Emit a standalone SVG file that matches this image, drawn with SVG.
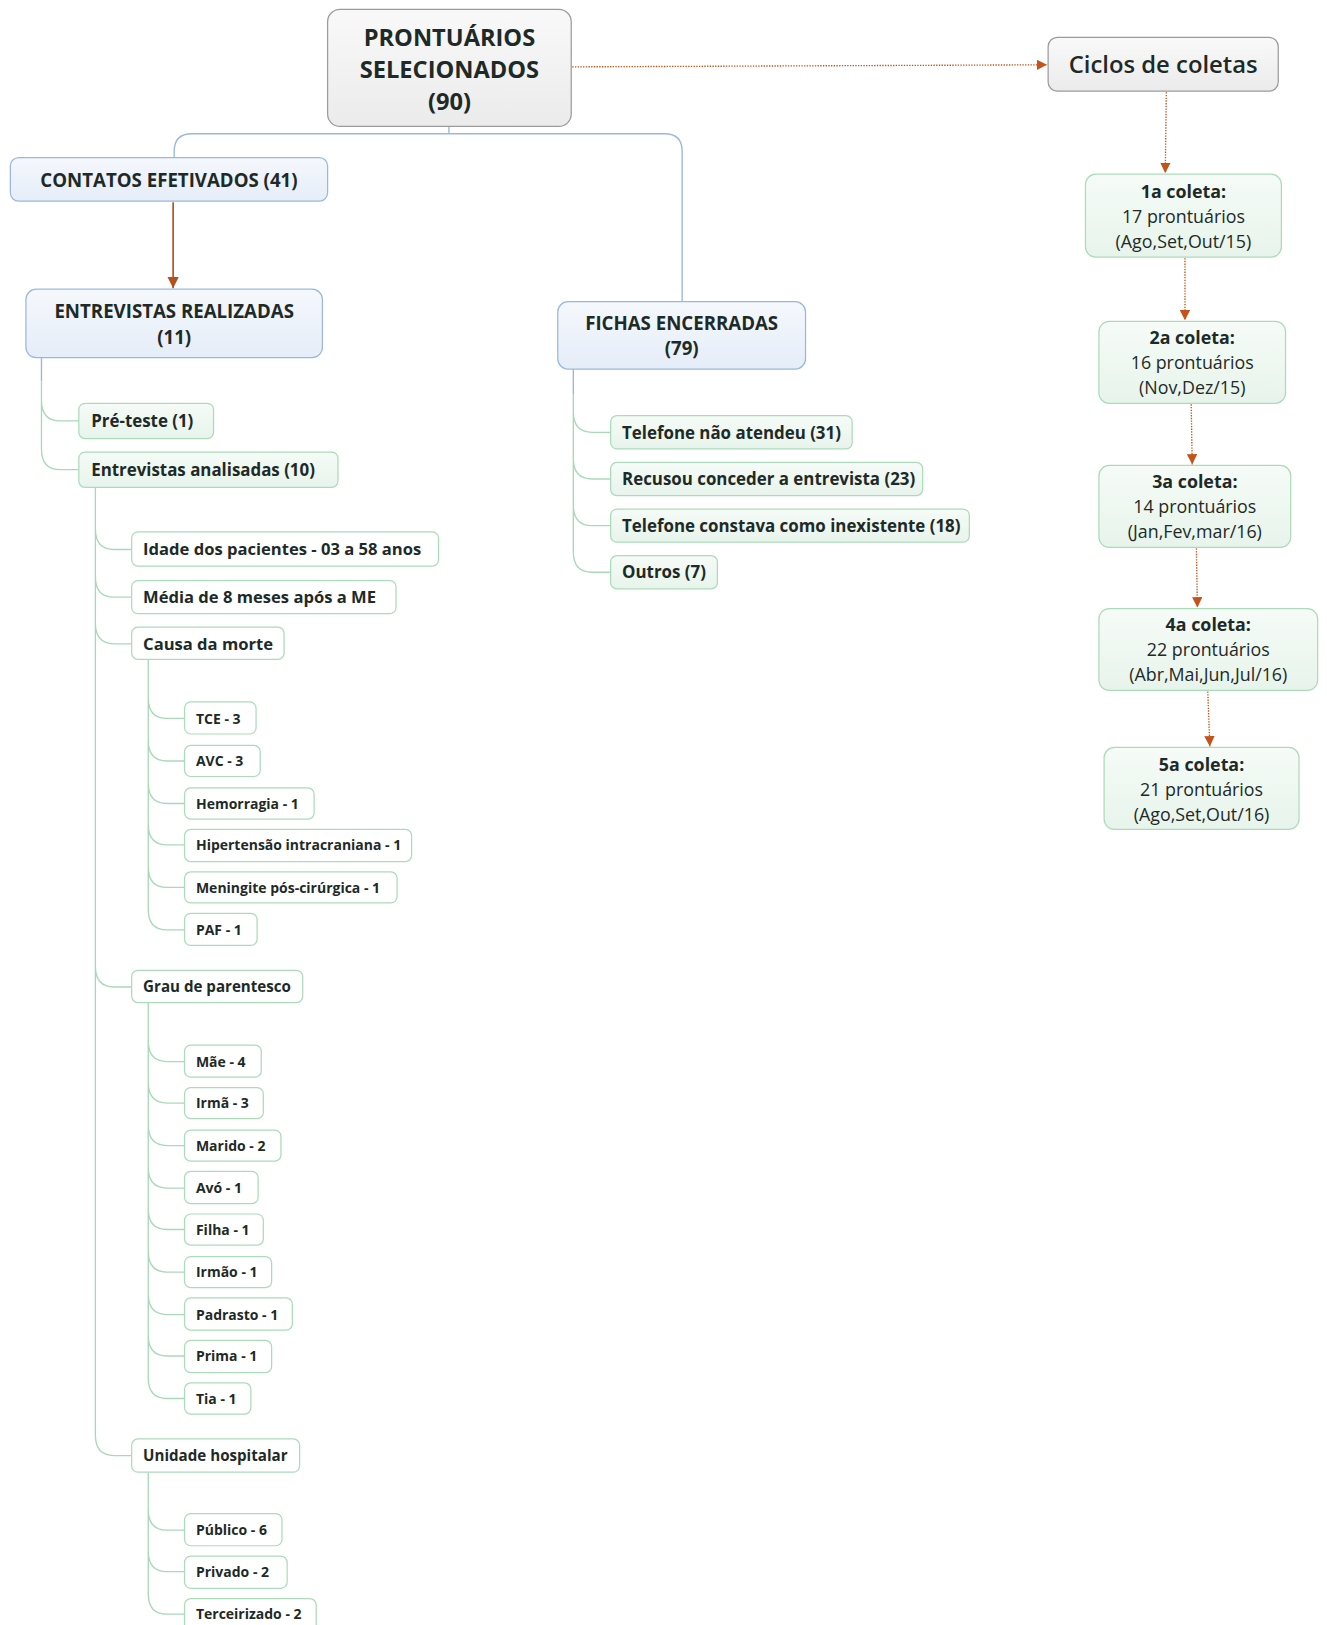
<svg xmlns="http://www.w3.org/2000/svg" width="1327" height="1625" viewBox="0 0 1327 1625">
<defs>
<linearGradient id="gGray" x1="0" y1="0" x2="0" y2="1"><stop offset="0" stop-color="#f9f9f9"/><stop offset="1" stop-color="#ebebeb"/></linearGradient>
<linearGradient id="gBlue" x1="0" y1="0" x2="0" y2="1"><stop offset="0" stop-color="#f5f8fc"/><stop offset="1" stop-color="#e5edf8"/></linearGradient>
<linearGradient id="gGreen" x1="0" y1="0" x2="0" y2="1"><stop offset="0" stop-color="#f6fbf7"/><stop offset="1" stop-color="#e7f4eb"/></linearGradient>
<marker id="aOr" viewBox="0 0 10 10" refX="10" refY="5" markerWidth="10" markerHeight="10" markerUnits="userSpaceOnUse" orient="auto"><path d="M0,0 L10,5 L0,10 z" fill="#c4531a"/></marker>
<marker id="aBr" viewBox="0 0 10 10" refX="10" refY="5" markerWidth="11" markerHeight="11" markerUnits="userSpaceOnUse" orient="auto"><path d="M0,0 L10,5 L0,10 z" fill="#b0521f"/></marker>
</defs>
<style>
text{font-family:"Open Sans","Noto Sans","DejaVu Sans",sans-serif;fill:#1e2a27}
.b{font-weight:700}
.c{text-anchor:middle}
.gray{fill:url(#gGray);stroke:#9b9b9b;stroke-width:1.2}
.blue{fill:url(#gBlue);stroke:#9ab8de;stroke-width:1.2}
.green{fill:url(#gGreen);stroke:#acdbbb;stroke-width:1.2}
.white{fill:#ffffff;stroke:#acdbbb;stroke-width:1.2}
.cb{fill:none;stroke:#9ab8de;stroke-width:1.3}
.cg{fill:none;stroke:#a9d9b9;stroke-width:1.3}
.cd{fill:none;stroke:#c4531a;stroke-width:1.3;stroke-dasharray:1.3 1.3}
.cr{fill:none;stroke:#b0521f;stroke-width:1.6}
.f21{font-size:22.8px}.f23{font-size:23px}.f18{font-size:18px}.f165{font-size:16.3px}.f17{font-size:17.2px}.f16{font-size:16px}.f145{font-size:14.6px}.f135{font-size:13.5px}
</style>
<g transform="scale(1.036719)">
<g id="connectors">
<path class="cb" d="M433,122 V129 M168,152 V146 Q168,129 185,129 H641 Q658,129 658,146 V291"/>
<path class="cr" d="M167,195 L167,278" marker-end="url(#aBr)"/>
<path class="cd" d="M552,64.5 L1010,62.5" marker-end="url(#aOr)"/>
<path class="cd" d="M1125,89 L1124,167" marker-end="url(#aOr)"/>
<path class="cd" d="M1143,249 L1143,309" marker-end="url(#aOr)"/>
<path class="cd" d="M1149,390 L1150,448" marker-end="url(#aOr)"/>
<path class="cd" d="M1154,529 L1155,586" marker-end="url(#aOr)"/>
<path class="cd" d="M1165,667 L1167,720" marker-end="url(#aOr)"/>
<path class="cb" d="M40,345 V368 M553,356 V380"/>
<path class="cg" d="M40,368 V433 M40,386 C40,400 46,406 58,406 H76 M40,433 C40,447 46,453 58,453 H76"/>
<path class="cg" d="M553,380 V532 M553,397 C553,411 559,417 571,417 H589 M553,442 C553,456 559,462 571,462 H589 M553,487 C553,501 559,507 571,507 H589 M553,532 C553,546 559,552 571,552 H589"/>
<path class="cg" d="M92,470 V1384 M92,510 C92,524 98,530 110,530 H127 M92,556 C92,570 98,576 110,576 H127 M92,601 C92,615 98,621 110,621 H127 M92,932 C92,946 98,952 110,952 H127 M92,1384 C92,1398 98,1404 110,1404 H127"/>
<path class="cg" d="M143,636 V877 M143,673 C143,687 149,693 161,693 H178 M143,714 C143,728 149,734 161,734 H178 M143,755 C143,769 149,775 161,775 H178 M143,795 C143,809 149,815 161,815 H178 M143,836 C143,850 149,856 161,856 H178 M143,877 C143,891 149,897 161,897 H178"/>
<path class="cg" d="M143,967 V1329 M143,1004 C143,1018 149,1024 161,1024 H178 M143,1044 C143,1058 149,1064 161,1064 H178 M143,1085 C143,1099 149,1105 161,1105 H178 M143,1126 C143,1140 149,1146 161,1146 H178 M143,1166 C143,1180 149,1186 161,1186 H178 M143,1207 C143,1221 149,1227 161,1227 H178 M143,1248 C143,1262 149,1268 161,1268 H178 M143,1288 C143,1302 149,1308 161,1308 H178 M143,1329 C143,1343 149,1349 161,1349 H178"/>
<path class="cg" d="M143,1420 V1537 M143,1456 C143,1470 149,1476 161,1476 H178 M143,1496 C143,1510 149,1516 161,1516 H178 M143,1537 C143,1551 149,1557 161,1557 H178"/>
</g>

<g id="n-root"><rect class="gray" x="316" y="9" width="235" height="113" rx="12"/>
<text class="b c f21" x="433.5" y="44.3">PRONTUÁRIOS</text>
<text class="b c f21" x="433.5" y="75.3">SELECIONADOS</text>
<text class="b c f21" x="433.5" y="106.3">(90)</text></g>

<g id="n-ciclos"><rect class="gray" x="1011" y="36" width="222" height="52" rx="9"/>
<text class="c f23" style="font-weight:600" x="1122" y="70">Ciclos de coletas</text></g>

<g id="n-c1"><rect class="green" x="1047" y="168" width="189" height="80" rx="10"/>
<text class="b c f17" x="1141.5" y="191">1a coleta:</text>
<text class="c f17" x="1141.5" y="215">17 prontuários</text>
<text class="c f17" x="1141.5" y="239">(Ago,Set,Out/15)</text></g>

<g id="n-c2"><rect class="green" x="1060" y="310" width="180" height="79" rx="10"/>
<text class="b c f17" x="1150" y="332">2a coleta:</text>
<text class="c f17" x="1150" y="356">16 prontuários</text>
<text class="c f17" x="1150" y="380">(Nov,Dez/15)</text></g>

<g id="n-c3"><rect class="green" x="1060" y="449" width="185" height="79" rx="10"/>
<text class="b c f17" x="1152.5" y="471">3a coleta:</text>
<text class="c f17" x="1152.5" y="495">14 prontuários</text>
<text class="c f17" x="1152.5" y="519">(Jan,Fev,mar/16)</text></g>

<g id="n-c4"><rect class="green" x="1060" y="587" width="211" height="79" rx="10"/>
<text class="b c f17" x="1165.5" y="609">4a coleta:</text>
<text class="c f17" x="1165.5" y="633">22 prontuários</text>
<text class="c f17" x="1165.5" y="657">(Abr,Mai,Jun,Jul/16)</text></g>

<g id="n-c5"><rect class="green" x="1065" y="721" width="188" height="79" rx="10"/>
<text class="b c f17" x="1159" y="744">5a coleta:</text>
<text class="c f17" x="1159" y="768">21 prontuários</text>
<text class="c f17" x="1159" y="792">(Ago,Set,Out/16)</text></g>

<g id="n-contatos"><rect class="blue" x="10" y="152" width="306" height="42" rx="8"/>
<text class="b c f18" x="163" y="180.5">CONTATOS EFETIVADOS (41)</text></g>

<g id="n-entrevistas"><rect class="blue" x="25" y="279" width="286" height="66" rx="10"/>
<text class="b c f18" x="168" y="306.5">ENTREVISTAS REALIZADAS</text>
<text class="b c f18" x="168" y="331.5">(11)</text></g>

<g id="n-fichas"><rect class="blue" x="538" y="291" width="239" height="65" rx="10"/>
<text class="b c f18" x="657.5" y="318.5">FICHAS ENCERRADAS</text>
<text class="b c f18" x="657.5" y="342.5">(79)</text></g>

<g id="n-preteste"><rect class="green" x="76" y="389" width="130" height="34" rx="6"/>
<text class="b f165" x="88" y="412">Pré-teste (1)</text></g>
<g id="n-analisadas"><rect class="green" x="76" y="436" width="250" height="34" rx="6"/>
<text class="b f165" x="88" y="459">Entrevistas analisadas (10)</text></g>

<g id="n-tel1"><rect class="green" x="589" y="401" width="233" height="32" rx="6"/>
<text class="b f165" x="600" y="423">Telefone não atendeu (31)</text></g>
<g id="n-recusou"><rect class="green" x="589" y="446" width="301" height="32" rx="6"/>
<text class="b f165" x="600" y="468">Recusou conceder a entrevista (23)</text></g>
<g id="n-tel2"><rect class="green" x="589" y="491" width="346" height="32" rx="6"/>
<text class="b f165" x="600" y="513">Telefone constava como inexistente (18)</text></g>
<g id="n-outros"><rect class="green" x="589" y="536" width="103" height="32" rx="6"/>
<text class="b f165" x="600" y="558">Outros (7)</text></g>

<g id="n-idade"><rect class="white" x="127" y="513" width="296" height="33" rx="6"/>
<text class="b f16" x="138" y="535.8">Idade dos pacientes - 03 a 58 anos</text></g>
<g id="n-media"><rect class="white" x="127" y="560" width="255" height="32" rx="6"/>
<text class="b f16" x="138" y="581.8">Média de 8 meses após a ME</text></g>
<g id="n-causa"><rect class="white" x="127" y="605" width="147" height="31" rx="6"/>
<text class="b f16" x="138" y="626.8">Causa da morte</text></g>
<g id="n-grau"><rect class="white" x="127" y="936" width="165" height="31" rx="6"/>
<text class="b f145" x="138" y="957.3">Grau de parentesco</text></g>
<g id="n-unidade"><rect class="white" x="127" y="1388" width="162" height="32" rx="6"/>
<text class="b f145" x="138" y="1409.3">Unidade hospitalar</text></g>

<g id="n-tce"><rect class="white" x="178" y="677" width="69" height="31" rx="6"/><text class="b f135" x="189" y="697.9">TCE - 3</text></g>
<g id="n-avc"><rect class="white" x="178" y="719" width="73" height="30" rx="6"/><text class="b f135" x="189" y="738.9">AVC - 3</text></g>
<g id="n-hemorragia"><rect class="white" x="178" y="760" width="125" height="30" rx="6"/><text class="b f135" x="189" y="779.9">Hemorragia - 1</text></g>
<g id="n-hipertensao"><rect class="white" x="178" y="800" width="219" height="31" rx="6"/><text class="b f135" x="189" y="819.9">Hipertensão intracraniana - 1</text></g>
<g id="n-meningite"><rect class="white" x="178" y="841" width="205" height="30" rx="6"/><text class="b f135" x="189" y="860.9">Meningite pós-cirúrgica - 1</text></g>
<g id="n-paf"><rect class="white" x="178" y="881" width="70" height="31" rx="6"/><text class="b f135" x="189" y="901.9">PAF - 1</text></g>

<g id="n-mae"><rect class="white" x="178" y="1008" width="74" height="31" rx="6"/><text class="b f135" x="189" y="1028.9">Mãe - 4</text></g>
<g id="n-irma"><rect class="white" x="178" y="1049" width="76" height="30" rx="6"/><text class="b f135" x="189" y="1068.9">Irmã - 3</text></g>
<g id="n-marido"><rect class="white" x="178" y="1090" width="93" height="30" rx="6"/><text class="b f135" x="189" y="1109.9">Marido - 2</text></g>
<g id="n-avo"><rect class="white" x="178" y="1130" width="71" height="31" rx="6"/><text class="b f135" x="189" y="1150.9">Avó - 1</text></g>
<g id="n-filha"><rect class="white" x="178" y="1171" width="76" height="30" rx="6"/><text class="b f135" x="189" y="1190.9">Filha - 1</text></g>
<g id="n-irmao"><rect class="white" x="178" y="1212" width="84" height="30" rx="6"/><text class="b f135" x="189" y="1231.9">Irmão - 1</text></g>
<g id="n-padrasto"><rect class="white" x="178" y="1252" width="104" height="31" rx="6"/><text class="b f135" x="189" y="1272.9">Padrasto - 1</text></g>
<g id="n-prima"><rect class="white" x="178" y="1293" width="84" height="31" rx="6"/><text class="b f135" x="189" y="1312.9">Prima - 1</text></g>
<g id="n-tia"><rect class="white" x="178" y="1334" width="64" height="30" rx="6"/><text class="b f135" x="189" y="1353.9">Tia - 1</text></g>

<g id="n-publico"><rect class="white" x="178" y="1460" width="94" height="31" rx="6"/><text class="b f135" x="189" y="1480.9">Público - 6</text></g>
<g id="n-privado"><rect class="white" x="178" y="1501" width="99" height="31" rx="6"/><text class="b f135" x="189" y="1520.9">Privado - 2</text></g>
<g id="n-terceirizado"><rect class="white" x="178" y="1542" width="127" height="31" rx="6"/><text class="b f135" x="189" y="1561.9">Terceirizado - 2</text></g>
</g>
</svg>
